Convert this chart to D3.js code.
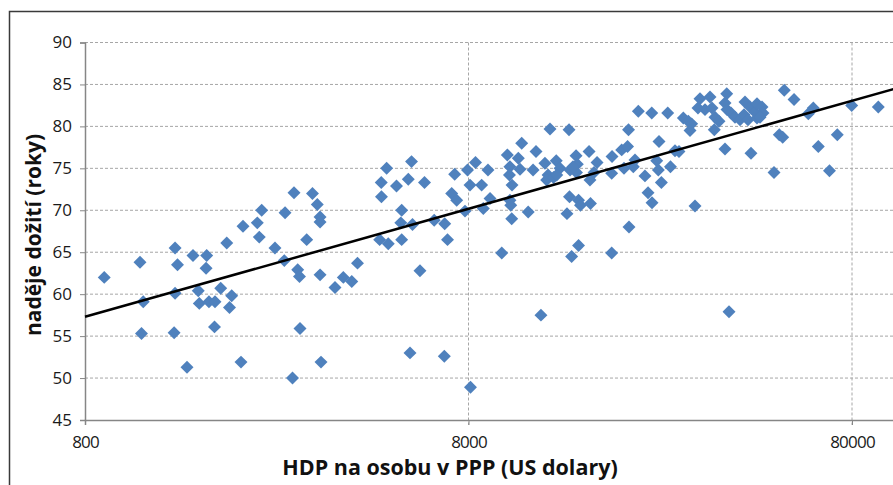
<!DOCTYPE html>
<html>
<head>
<meta charset="utf-8">
<script src="https://cdn.jsdelivr.net/npm/d3@7/dist/d3.min.js"></script>
<style>
  body { margin: 0; background: #fff; }
  svg { display: block; }
</style>
</head>
<body>
<script>
var gdp = [898, 1113, 1135, 1123, 1374, 1394, 1374, 1366, 1476, 1530, 1661, 1655, 1579, 1589, 1684, 1746, 1741, 1807, 1874, 1930,
  1905, 2041, 2066, 2251, 2311, 2278, 2503, 2659, 2806, 2647, 2869, 2900, 3135, 3227, 3281, 3281, 3028, 3281, 3589, 3773,
  3969, 4108, 2909, 3300, 2781, 4894, 5682, 4738, 4744, 5192, 5573, 6143, 5356, 5328, 5716, 4693, 4942, 5356, 5978, 6511,
  6935, 7053, 7363, 7232, 7452, 7952, 8344, 8072, 8657, 8992, 7834, 8745, 9105, 5631, 6919, 8096, 13050, 14630, 11010, 10100,
  10790, 12000, 10260, 10900, 11790, 10230, 10390, 12660, 13550, 12900, 13860, 12790, 13330, 14720, 15260, 15380, 15300, 16500, 17310, 16590,
  17000, 18940, 20070, 20910, 18900, 20350, 20790, 10260, 10310, 10370, 11450, 14670, 15490, 15670, 16640, 14450, 20970, 9768, 15490, 14860,
  18900, 12360, 38230, 22180, 24040, 26460, 29060, 29940, 30550, 30250, 32120, 34110, 37710, 35000, 37320, 43620, 25110, 21740, 21520, 24770,
  25010, 26900, 27640, 28310, 23080, 25470, 23510, 24080, 31170, 53270, 56490, 63410, 61540, 79850, 93680, 51700, 52770, 73240, 65350, 50090,
  69880, 31730, 33100, 34520, 35140, 36000, 37320, 37770, 38690, 39630, 40840, 42080, 41830, 43360, 42850, 44690, 45220, 45220, 46600, 46880,
  46050, 13590, 14980];

var lifeExp = [62.0, 63.8, 59.1, 55.3, 65.5, 63.5, 60.1, 55.4, 51.3, 64.6, 64.6, 63.1, 60.4, 58.9, 59.1, 59.1, 56.1, 60.7, 66.1, 59.8,
  58.4, 51.9, 68.1, 68.5, 70.0, 66.8, 65.5, 69.7, 72.1, 64.0, 62.9, 62.1, 72.0, 70.7, 69.2, 68.6, 66.5, 62.3, 60.8, 62.0,
  61.5, 63.7, 55.9, 51.9, 50.0, 75.0, 75.8, 73.3, 71.6, 72.9, 73.7, 73.3, 70.0, 68.5, 68.3, 66.5, 66.0, 66.5, 62.8, 68.8,
  68.4, 66.5, 74.3, 72.0, 71.2, 74.8, 75.7, 73.0, 73.0, 74.8, 69.9, 70.2, 71.4, 53.0, 52.6, 48.9, 79.7, 79.6, 78.0, 76.6,
  76.2, 77.0, 75.2, 74.9, 74.8, 74.2, 73.0, 75.6, 75.9, 74.2, 75.0, 73.6, 73.9, 74.8, 76.5, 75.5, 74.5, 77.0, 75.7, 73.6,
  74.5, 76.4, 77.2, 79.6, 74.4, 75.0, 77.6, 71.2, 70.6, 69.0, 69.8, 71.6, 71.2, 70.6, 70.8, 69.6, 68.0, 64.9, 65.8, 64.5,
  64.9, 57.5, 57.9, 81.8, 81.6, 81.6, 81.0, 80.6, 80.3, 79.5, 83.3, 83.5, 83.9, 79.6, 77.3, 76.8, 78.2, 76.0, 75.2, 75.9,
  74.8, 75.2, 77.1, 77.0, 74.1, 73.3, 72.1, 70.9, 70.5, 84.3, 83.2, 82.2, 81.5, 82.5, 82.3, 79.0, 78.7, 79.0, 77.6, 74.5,
  74.7, 82.2, 82.0, 82.2, 81.1, 80.6, 82.8, 82.0, 81.6, 81.1, 80.8, 82.9, 81.4, 82.3, 80.8, 81.7, 82.7, 81.0, 82.3, 81.6,
  81.1, 74.2, 75.2];

// linear trend (log x)
var trendGdp = [800, 125000];
var trendLife = [57.3, 85.55];

var xTicks = [800, 8000, 80000];
var yTicks = [45, 50, 55, 60, 65, 70, 75, 80, 85, 90];

var xTitle = "HDP na osobu v PPP (US dolary)";
var yTitle = "naděje dožití (roky)";

var width = 893, height = 485;
var plotLeft = 85, plotTop = 42.5, plotBottom = 420;
var decade = 383.5;

var svg = d3.select("body").append("svg")
    .attr("width", width)
    .attr("height", height);

svg.append("rect")
    .attr("x", 9.5).attr("y", 11.5)
    .attr("width", 1000).attr("height", 1000)
    .attr("fill", "#fff")
    .attr("stroke", "#3a3a3a")
    .attr("stroke-width", 1.5);

var x = d3.scaleLog()
    .domain([800, 125000])
    .range([plotLeft, plotLeft + decade * Math.log10(125000 / 800)]);

var y = d3.scaleLinear()
    .domain([45, 90])
    .range([plotBottom, plotTop]);

// horizontal grid
svg.selectAll("line.hgrid")
    .data(yTicks.filter(function(d) { return d > 45; }))
    .enter().append("line")
    .attr("class", "hgrid")
    .attr("x1", plotLeft).attr("x2", width)
    .attr("y1", function(d) { return y(d); })
    .attr("y2", function(d) { return y(d); })
    .attr("stroke", "#a6a6a6")
    .attr("stroke-width", 1)
    .attr("stroke-dasharray", "3,2");

// vertical grid
svg.selectAll("line.vgrid")
    .data(xTicks.slice(1))
    .enter().append("line")
    .attr("class", "vgrid")
    .attr("x1", function(d) { return x(d); })
    .attr("x2", function(d) { return x(d); })
    .attr("y1", plotTop).attr("y2", plotBottom + 5)
    .attr("stroke", "#a6a6a6")
    .attr("stroke-width", 1)
    .attr("stroke-dasharray", "3,2");

// axes
var yAxis = d3.axisLeft(y).tickValues(yTicks).tickSize(5).tickPadding(8);
var gy = svg.append("g").attr("transform", "translate(" + plotLeft + ",0)").call(yAxis);
gy.select(".domain").attr("stroke", "#868686").attr("stroke-width", 1.5);
gy.selectAll(".tick line").attr("stroke", "#868686");
gy.selectAll(".tick text")
    .attr("font-family", "'Open Sans', sans-serif")
    .attr("font-size", "17px")
    .attr("fill", "#1a1a1a");

var xAxis = d3.axisBottom(x).tickValues(xTicks).tickFormat(d3.format("d")).tickSize(5).tickPadding(11);
var gx = svg.append("g").attr("transform", "translate(0," + plotBottom + ")").call(xAxis);
gx.select(".domain").attr("stroke", "#868686").attr("stroke-width", 1.5);
gx.selectAll(".tick line").attr("stroke", "#868686");
gx.selectAll(".tick text")
    .attr("font-family", "'Open Sans', sans-serif")
    .attr("font-size", "17px")
    .attr("letter-spacing", "-0.8px")
    .attr("fill", "#1a1a1a");

// points
var diamond = d3.symbol().type(d3.symbolSquare).size(84);
svg.append("g").selectAll("path")
    .data(d3.range(gdp.length))
    .enter().append("path")
    .attr("d", diamond)
    .attr("transform", function(i) {
        return "translate(" + x(gdp[i]) + "," + y(lifeExp[i]) + ") rotate(45)";
    })
    .attr("fill", "#4f81bd");

// trend line
svg.append("line")
    .attr("x1", x(trendGdp[0])).attr("y1", y(trendLife[0]))
    .attr("x2", x(trendGdp[1])).attr("y2", y(trendLife[1]))
    .attr("stroke", "#000")
    .attr("stroke-width", 2.5);

// titles
svg.append("text")
    .text(xTitle)
    .attr("x", 450).attr("y", 475)
    .attr("text-anchor", "middle")
    .attr("font-family", "'Open Sans', sans-serif")
    .attr("font-weight", "bold")
    .attr("font-size", "21.5px")
    .attr("fill", "#111");

svg.append("text")
    .text(yTitle)
    .attr("transform", "translate(41,235) rotate(-90)")
    .attr("text-anchor", "middle")
    .attr("font-family", "'Open Sans', sans-serif")
    .attr("font-weight", "bold")
    .attr("font-size", "21px")
    .attr("fill", "#111");
</script>
</body>
</html>
